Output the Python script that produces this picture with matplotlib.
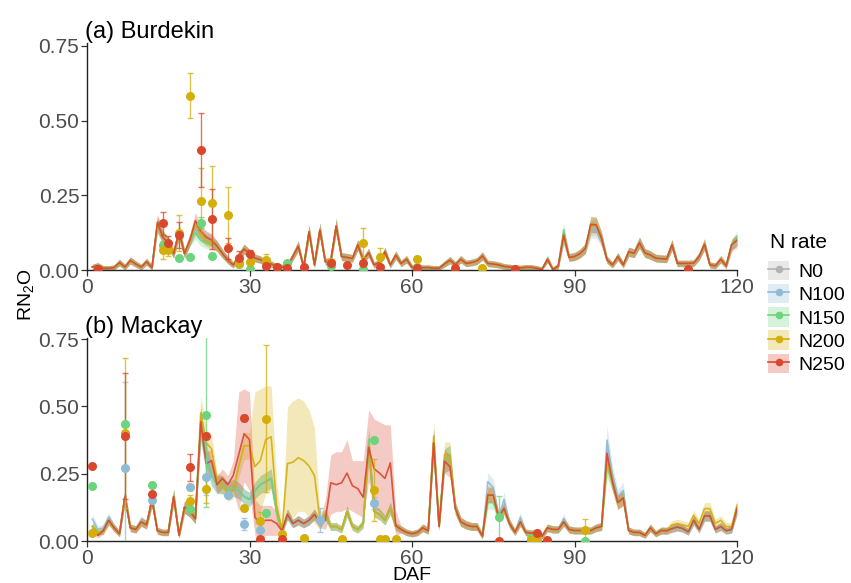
import numpy as np
import matplotlib
matplotlib.use("Agg")
import matplotlib.pyplot as plt
from matplotlib.patches import Patch
from matplotlib.lines import Line2D

plt.rcParams['font.family'] = ['Liberation Sans', 'DejaVu Sans']
plt.rcParams['mathtext.fontset'] = 'custom'
plt.rcParams['mathtext.rm'] = 'Liberation Sans'
plt.rcParams['mathtext.it'] = 'Liberation Sans:italic'

# ---------------- data ----------------
treatments = ["N0", "N100", "N150", "N200", "N250"]
days = list(range(1, 121))

# Burdekin daily simulated RN2O (common trace, N250)
burdekin_base = [
    0.010, 0.015, 0.006, 0.006, 0.008, 0.025, 0.010, 0.032, 0.020, 0.010,
    0.028, 0.008, 0.160, 0.110, 0.090, 0.055, 0.128, 0.055, 0.100, 0.165,
    0.130, 0.110, 0.100, 0.080, 0.055, 0.033, 0.017, 0.045, 0.070, 0.055,
    0.040, 0.035, 0.025, 0.020, 0.012, 0.010, 0.015, 0.045, 0.080, 0.010,
    0.128, 0.017, 0.134, 0.028, 0.030, 0.147, 0.045, 0.042, 0.039, 0.084,
    0.033, 0.058, 0.017, 0.025, 0.061, 0.017, 0.050, 0.022, 0.036, 0.009,
    0.009, 0.008, 0.008, 0.006, 0.006, 0.020, 0.033, 0.018, 0.036, 0.022,
    0.025, 0.030, 0.047, 0.022, 0.020, 0.017, 0.012, 0.010, 0.008, 0.007,
    0.009, 0.009, 0.006, 0.002, 0.036, 0.002, 0.013, 0.117, 0.042, 0.045,
    0.055, 0.072, 0.153, 0.151, 0.106, 0.034, 0.017, 0.045, 0.017, 0.061,
    0.056, 0.091, 0.057, 0.050, 0.040, 0.038, 0.037, 0.084, 0.022, 0.022,
    0.022, 0.023, 0.045, 0.086, 0.017, 0.014, 0.036, 0.014, 0.084, 0.100,
]
burdekin_N0 = {13: 0.15, 20: 0.14, 21: 0.115, 22: 0.10, 88: 0.10, 93: 0.13,
               94: 0.13, 95: 0.095, 119: 0.075, 120: 0.09}
burdekin_N100 = {13: 0.15, 20: 0.14, 21: 0.12, 93: 0.14, 94: 0.14}
burdekin_N150 = {13: 0.15, 20: 0.125, 21: 0.10, 22: 0.09, 23: 0.085,
                 88: 0.135, 120: 0.11}
burdekin_N200 = {13: 0.155, 20: 0.15, 21: 0.12, 22: 0.10, 23: 0.09, 93: 0.145}
burdekin_N250 = {}

# Mackay daily simulated RN2O (common trace, N0)
mackay_base = [
    0.055, 0.033, 0.039, 0.078, 0.050, 0.028, 0.166, 0.050, 0.044, 0.072,
    0.061, 0.155, 0.039, 0.033, 0.033, 0.166, 0.022, 0.127, 0.111, 0.083,
    0.432, 0.321, 0.244, 0.210, 0.210, 0.188, 0.199, 0.188, 0.166, 0.155,
    0.188, 0.210, 0.221, 0.233, 0.111, 0.039, 0.100, 0.066, 0.078, 0.066,
    0.078, 0.100, 0.066, 0.100, 0.055, 0.055, 0.044, 0.111, 0.055, 0.044,
    0.066, 0.354, 0.111, 0.100, 0.078, 0.122, 0.055, 0.044, 0.033, 0.028,
    0.033, 0.050, 0.039, 0.365, 0.055, 0.299, 0.310, 0.122, 0.072, 0.061,
    0.055, 0.055, 0.019, 0.177, 0.172, 0.089, 0.122, 0.066, 0.034, 0.072,
    0.033, 0.030, 0.031, 0.019, 0.050, 0.044, 0.044, 0.072, 0.044, 0.040,
    0.040, 0.040, 0.040, 0.050, 0.055, 0.332, 0.221, 0.144, 0.161, 0.040,
    0.033, 0.033, 0.022, 0.050, 0.028, 0.040, 0.039, 0.047, 0.053, 0.047,
    0.035, 0.078, 0.044, 0.094, 0.094, 0.044, 0.055, 0.039, 0.044, 0.122,
]
mackay_N0 = {}
mackay_N100 = {1: 0.082, 2: 0.044, 3: 0.050, 4: 0.089, 10: 0.078, 21: 0.41,
               22: 0.332, 74: 0.221, 75: 0.199, 77: 0.155, 80: 0.089, 88: 0.084,
               96: 0.375, 97: 0.244, 98: 0.166, 99: 0.188}
mackay_N150 = {21: 0.432, 22: 0.31, 52: 0.377, 74: 0.144, 75: 0.144, 96: 0.275}
mackay_N200 = {21: 0.476, 22: 0.365, 23: 0.343, 24: 0.221, 26: 0.177, 27: 0.188,
               28: 0.277, 29: 0.354, 30: 0.354, 31: 0.277, 32: 0.299, 33: 0.377,
               34: 0.388, 35: 0.133, 37: 0.288, 38: 0.293, 39: 0.31, 40: 0.299,
               41: 0.279, 42: 0.243, 43: 0.081, 64: 0.39, 66: 0.322, 67: 0.321,
               96: 0.299, 108: 0.061, 109: 0.066, 110: 0.061, 111: 0.055,
               112: 0.096, 113: 0.066, 114: 0.121, 115: 0.121, 116: 0.066,
               117: 0.078, 118: 0.055, 119: 0.055, 120: 0.133}
mackay_N250 = {1: 0.044, 2: 0.022, 21: 0.443, 22: 0.288, 23: 0.299, 25: 0.233,
               26: 0.21, 27: 0.244, 28: 0.321, 29: 0.399, 30: 0.377, 31: 0.089,
               32: 0.066, 33: 0.078, 34: 0.078, 35: 0.066, 44: 0.078, 45: 0.217,
               46: 0.21, 47: 0.217, 48: 0.253, 49: 0.206, 50: 0.195, 51: 0.163,
               52: 0.348, 53: 0.269, 54: 0.253, 55: 0.233, 56: 0.291, 57: 0.058,
               64: 0.365, 66: 0.297, 67: 0.277, 74: 0.171, 75: 0.171, 96: 0.326}

# wide uncertainty bands (day: (low, high))
mackay_band_N200 = {31: (0.055, 0.554), 32: (0.111, 0.565), 33: (0.177, 0.576),
                    34: (0.188, 0.576), 35: (0.066, 0.221), 37: (0.089, 0.498),
                    38: (0.089, 0.521), 39: (0.111, 0.532), 40: (0.111, 0.521),
                    41: (0.089, 0.487), 42: (0.066, 0.421), 43: (0.044, 0.111)}
mackay_band_N250 = {27: (0.188, 0.299), 28: (0.111, 0.554), 29: (0.221, 0.565),
                    30: (0.188, 0.554), 31: (0.022, 0.155), 32: (0.000, 0.133),
                    33: (0.022, 0.133), 34: (0.022, 0.133), 35: (0.022, 0.111),
                    44: (0.044, 0.155), 45: (0.100, 0.321), 46: (0.111, 0.332),
                    47: (0.111, 0.332), 48: (0.122, 0.377), 49: (0.111, 0.299),
                    50: (0.100, 0.299), 51: (0.089, 0.299), 52: (0.221, 0.487),
                    53: (0.133, 0.454), 54: (0.111, 0.443), 55: (0.089, 0.432),
                    56: (0.133, 0.432), 57: (0.022, 0.111)}
band_abs = 0.008
band_rel = 0.12

# observed values (mean, se)
bur_obs_days_N150 = [14, 17, 19, 21, 23, 28, 30, 37, 45, 51, 61]
bur_obs_N150 = [0.083, 0.039, 0.044, 0.158, 0.048, 0.020, 0.005, 0.022, 0.015, 0.003, 0.010]
bur_err_N150 = [0.010, 0.005, 0.005, 0.018, 0.008, 0.004, 0.003, 0.004, 0.004, 0.002, 0.003]
bur_obs_days_N200 = [14, 15, 17, 19, 21, 23, 26, 28, 30, 33, 35, 45, 51, 54, 61, 73]
bur_obs_N200 = [0.067, 0.067, 0.125, 0.583, 0.232, 0.223, 0.184, 0.025, 0.027, 0.033,
                0.010, 0.027, 0.091, 0.045, 0.037, 0.008]
bur_err_N200 = [0.030, 0.020, 0.060, 0.075, 0.110, 0.125, 0.095, 0.006, 0.006, 0.022,
                0.004, 0.006, 0.048, 0.028, 0.006, 0.003]
bur_obs_days_N250 = [2, 14, 15, 17, 21, 23, 26, 28, 30, 33, 35, 37, 40, 45, 48, 51, 54,
                     61, 68, 79, 111]
bur_obs_N250 = [0.003, 0.156, 0.089, 0.117, 0.402, 0.170, 0.072, 0.039, 0.052, 0.014,
                0.009, 0.008, 0.009, 0.022, 0.017, 0.024, 0.009, 0.006, 0.008, 0.004, 0.004]
bur_err_N250 = [0.002, 0.039, 0.025, 0.045, 0.123, 0.100, 0.035, 0.025, 0.015, 0.004,
                0.003, 0.003, 0.003, 0.004, 0.004, 0.004, 0.003, 0.002, 0.002, 0.002, 0.002]

mac_obs_days_N100 = [7, 12, 19, 22, 26, 29, 32, 43, 53]
mac_obs_N100 = [0.270, 0.154, 0.200, 0.239, 0.171, 0.065, 0.041, 0.079, 0.141]
mac_err_N100 = [0.321, 0.011, 0.011, 0.066, 0.011, 0.022, 0.033, 0.044, 0.022]
mac_obs_days_N150 = [1, 7, 12, 19, 22, 33, 53, 76, 82, 92]
mac_obs_N150 = [0.205, 0.436, 0.207, 0.119, 0.467, 0.106, 0.377, 0.089, 0.011, 0.002]
mac_err_N150 = [0.005, 0.011, 0.005, 0.011, 0.340, 0.011, 0.011, 0.080, 0.004, 0.002]
mac_obs_days_N200 = [1, 7, 19, 22, 29, 32, 33, 36, 40, 47, 53, 54, 55, 57, 82, 83, 92]
mac_obs_N200 = [0.030, 0.401, 0.150, 0.193, 0.125, 0.075, 0.455, 0.027, 0.013, 0.008,
                0.190, 0.010, 0.010, 0.009, 0.003, 0.003, 0.043]
mac_err_N200 = [0.005, 0.278, 0.022, 0.050, 0.011, 0.033, 0.272, 0.004, 0.003, 0.003,
                0.116, 0.003, 0.003, 0.003, 0.002, 0.002, 0.039]
mac_obs_days_N250 = [1, 7, 12, 19, 22, 29, 32, 36, 76, 83, 85]
mac_obs_N250 = [0.280, 0.389, 0.177, 0.274, 0.391, 0.456, 0.008, 0.010, 0.002, 0.029, 0.006]
mac_err_N250 = [0.005, 0.234, 0.005, 0.050, 0.011, 0.011, 0.003, 0.003, 0.002, 0.011, 0.002]

colors = {"N0": "#B3B3B3", "N100": "#8FBCD4", "N150": "#6BD47C",
          "N200": "#D4AF0A", "N250": "#D9472D"}

panels = [
    dict(title="(a) Burdekin", base=burdekin_base,
         over={"N0": burdekin_N0, "N100": burdekin_N100, "N150": burdekin_N150,
               "N200": burdekin_N200, "N250": burdekin_N250},
         bands={},
         obs={"N150": (bur_obs_days_N150, bur_obs_N150, bur_err_N150),
              "N200": (bur_obs_days_N200, bur_obs_N200, bur_err_N200),
              "N250": (bur_obs_days_N250, bur_obs_N250, bur_err_N250)}),
    dict(title="(b) Mackay", base=mackay_base,
         over={"N0": mackay_N0, "N100": mackay_N100, "N150": mackay_N150,
               "N200": mackay_N200, "N250": mackay_N250},
         bands={"N200": mackay_band_N200, "N250": mackay_band_N250},
         obs={"N100": (mac_obs_days_N100, mac_obs_N100, mac_err_N100),
              "N150": (mac_obs_days_N150, mac_obs_N150, mac_err_N150),
              "N200": (mac_obs_days_N200, mac_obs_N200, mac_err_N200),
              "N250": (mac_obs_days_N250, mac_obs_N250, mac_err_N250)}),
]

# ---------------- figure ----------------
W, H = 851, 583
fig = plt.figure(figsize=(W / 100, H / 100), dpi=100)
ax_left = 87 / W
ax_w = (737 - 87) / W
top_ymax, bot_ymax = 0.76, 0.755
axes = [fig.add_axes([ax_left, (H - 270) / H, ax_w, top_ymax * 298.7 / H]),
        fig.add_axes([ax_left, (H - 541.3) / H, ax_w, bot_ymax * 269.7 / H])]

tick_col = "#4D4D4D"
for ax, p, ymax in zip(axes, panels, [top_ymax, bot_ymax]):
    x = np.array(days)
    for t in treatments:
        y = np.array([p["over"][t].get(d, v) for d, v in zip(days, p["base"])])
        hw = band_abs + band_rel * y
        lo = y - hw
        hi = y + hw
        for d, (l, h) in p["bands"].get(t, {}).items():
            lo[d - 1] = l
            hi[d - 1] = h
        lo = np.clip(lo, 0, None)
        ax.fill_between(x, lo, hi, color=colors[t], alpha=0.28, lw=0, zorder=1)
    for t in treatments:
        y = np.array([p["over"][t].get(d, v) for d, v in zip(days, p["base"])])
        ax.plot(x, y, color=colors[t], lw=1.2, alpha=0.9, zorder=2)
    for t in treatments:
        if t in p["obs"]:
            od, ov, oe = p["obs"][t]
            ax.errorbar(od, ov, yerr=oe, fmt="none", ecolor=colors[t], elinewidth=1.0,
                        capsize=2.5, capthick=1.0, alpha=0.75, zorder=3)
            ax.plot(od, ov, "o", color=colors[t], ms=6.5, mec="none", zorder=4)
    ax.set_xlim(0, 120)
    ax.set_ylim(0, ymax)
    ax.set_xticks([0, 30, 60, 90, 120])
    ax.set_yticks([0, 0.25, 0.5, 0.75])
    ax.set_yticklabels(["0.00", "0.25", "0.50", "0.75"])
    for s in ["top", "right"]:
        ax.spines[s].set_visible(False)
    for s in ["left", "bottom"]:
        ax.spines[s].set_color("#222222")
        ax.spines[s].set_linewidth(1.0)
    ax.tick_params(axis="both", length=4, width=0.9, color="#333333",
                   labelcolor=tick_col, labelsize=15, pad=1.5)
    ax.set_title(p["title"], loc="left", fontsize=17, pad=3, x=-0.003)

fig.text(0.484, (H - 567) / H, "DAF", ha="center", va="top", fontsize=14)
fig.text(0.03, (H - 295) / H, r"RN$_2$O", ha="center", va="center",
         rotation=90, fontsize=14)

fig.text(770 / W, (H - 242) / H, "N rate", ha="left", va="center", fontsize=15)
handles = [(Patch(facecolor=colors[t], alpha=0.28, edgecolor="none"),
            Line2D([], [], color=colors[t], lw=1.2, marker="o", ms=5.5, mec="none"))
           for t in treatments]
leg = fig.legend(handles, treatments, loc="upper left",
                 bbox_to_anchor=(768 / W, (H - 261) / H), frameon=False,
                 fontsize=14, handlelength=1.1, handleheight=1.15,
                 handletextpad=0.45, labelspacing=0.15, borderaxespad=0,
                 borderpad=0)

fig.savefig("out.png", dpi=100)
